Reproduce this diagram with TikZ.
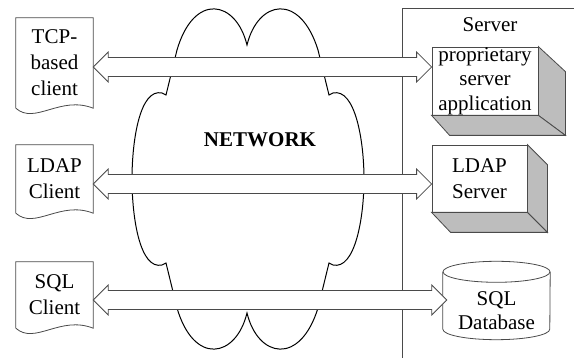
\documentclass[tikz,border=0pt]{standalone}
\usepackage{fontspec}
\setmainfont{Liberation Serif}
\usetikzlibrary{calc}
\definecolor{ln}{HTML}{4A4A4A}
\definecolor{shd}{HTML}{BDBDBD}
\tikzset{
  txt/.style={inner sep=0pt, align=center, font=\fontsize{21}{26}\selectfont},
  docbox/.style={txt, minimum width=77pt},
  docline/.style={draw=ln, line width=0.8pt},
  srvbox/.style={txt, draw=ln, line width=0.8pt, fill=white},
  face/.style={fill=shd, draw=ln, line width=0.8pt, line join=miter},
  barrow/.style={draw=ln, line width=0.8pt, fill=white, line join=miter},
  cloudline/.style={draw=black, line width=1pt},
  frameline/.style={draw=ln, line width=0.8pt},
}
\newcommand\blockarr[2]{%
  \draw[barrow] let \p1=(#1), \p2=(#2) in
    (\x1,\y1) -- (\x1+15pt,\y1+15pt) -- (\x1+15pt,\y1+9.5pt) --
    (\x2-15pt,\y1+9.5pt) -- (\x2-15pt,\y1+15pt) -- (\x2,\y1) --
    (\x2-15pt,\y1-15pt) -- (\x2-15pt,\y1-9.5pt) --
    (\x1+15pt,\y1-9.5pt) -- (\x1+15pt,\y1-15pt) -- cycle;}
\begin{document}
\begin{tikzpicture}[x=1pt,y=-1pt]
\useasboundingbox (0,0) rectangle (574,358);

% cloud
\draw[cloudline] (247,45) .. controls (258,0) and (300,-8) .. (318,50)
  -- (329,95) -- (333,93) .. controls (355,88) and (364,140) .. (364,179)
  .. controls (364,218) and (355,270) .. (333,265) -- (329,263) -- (318,308)
  .. controls (300,366) and (258,358) .. (247,313)
  .. controls (236,358) and (194,366) .. (177,308) -- (166,263) -- (162,265)
  .. controls (140,270) and (132,218) .. (132,179)
  .. controls (132,140) and (140,88) .. (162,93) -- (166,95) -- (177,50)
  .. controls (194,-8) and (236,0) .. (247,45) -- cycle;
\node[font=\fontsize{21}{26}\selectfont\bfseries, inner sep=0pt] (net) at (260,140) {NETWORK};

% server frame
\draw[frameline] (402,358) -- (402,8) -- (574,8);
\node[txt] (srv) at (490,25) {Server};

% clients
\node[docbox, minimum height=90pt] (tcp) at (54.5,63) {TCP-\\based\\client};
\node[docbox, minimum height=68pt] (ldapc) at (54.5,179) {LDAP\\Client};
\node[docbox, minimum height=66pt] (sqlc) at (54.5,295) {SQL\\Client};
\foreach \d in {tcp,ldapc,sqlc}{
  \draw[docline] (\d.south west) -- (\d.north west) -- (\d.north east) -- (\d.south east)
    .. controls +(-33,-13) and +(19,17) .. (\d.south west);
}

% server side
\node[srvbox, minimum width=106pt, minimum height=68pt, font=\fontsize{21}{24.5}\selectfont] (app) at (485,81) {proprietary\\server\\application};
\filldraw[face] (app.north east) -- ($(app.north east)+(27,25)$) -- ($(app.south east)+(27,20)$) -- (app.south east) -- cycle;
\filldraw[face] (app.south west) -- ($(app.south west)+(18,20)$) -- ($(app.south east)+(27,20)$) -- (app.south east) -- cycle;

\node[srvbox, minimum width=95pt, minimum height=67pt] (ldaps) at (479.5,178.5) {LDAP\\Server};
\filldraw[face] (ldaps.north east) -- ($(ldaps.north east)+(20,20)$) -- ($(ldaps.south east)+(20,20)$) -- (ldaps.south east) -- cycle;
\filldraw[face] (ldaps.south west) -- ($(ldaps.south west)+(19,20)$) -- ($(ldaps.south east)+(20,20)$) -- (ldaps.south east) -- cycle;

\node[minimum width=107pt, minimum height=57pt, inner sep=0pt] (db) at (496.5,300.5) {};
\draw[docline] (db.north west) -- (db.south west) arc[start angle=180, end angle=360, x radius=53.5pt, y radius=10.5pt] -- (db.north east);
\draw[docline] (db.north) ellipse [x radius=53.5pt, y radius=10.5pt];
\node[txt, font=\fontsize{21}{24}\selectfont] (dbt) at ($(db.center)+(0,10)$) {SQL\\Database};

% block arrows
\blockarr{$(tcp.east)+(0,4)$}{app.west}
\blockarr{$(ldapc.east)+(0,5)$}{ldaps.west}
\blockarr{$(sqlc.east)+(0,5)$}{$(db.west)+(4,0)$}
\end{tikzpicture}
\end{document}
